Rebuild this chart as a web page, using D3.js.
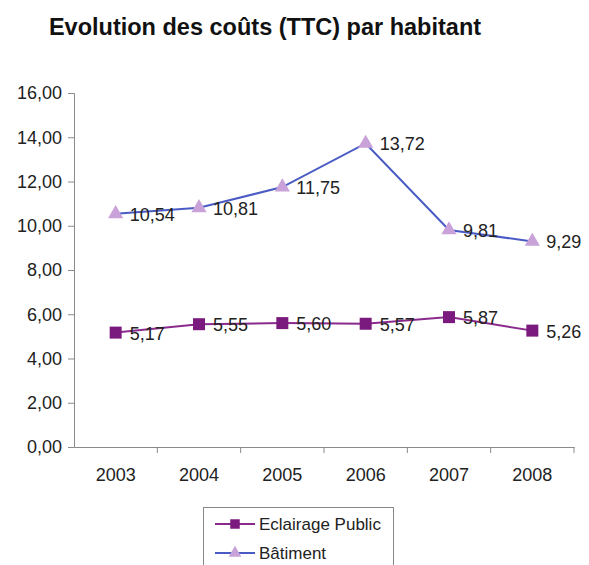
<!DOCTYPE html>
<html><head><meta charset="utf-8">
<script src="https://cdn.jsdelivr.net/npm/d3@7"></script>
<style>body{margin:0;background:#fff;}svg{display:block;font-family:"Liberation Sans",Arial,sans-serif;}</style>
</head><body><svg id="c" width="589" height="565"></svg>
<script>
const years = ["2003","2004","2005","2006","2007","2008"];
const eclairage = [5.17, 5.55, 5.60, 5.57, 5.87, 5.26];
const batiment = [10.54, 10.81, 11.75, 13.72, 9.81, 9.29];
const yTicks = [0,2,4,6,8,10,12,14,16];
const seriesNames = ["Eclairage Public", "Bâtiment"];

const svg = d3.select("#c");
const fmt = v => v.toFixed(2).replace(".", ",");
const FF = "Liberation Sans, Arial, sans-serif";

const x = d3.scaleBand().domain(years).range([74, 574]);
const y = d3.scaleLinear().domain([0,16]).range([447, 93]);

svg.append("text").attr("x", 265).attr("y", 35).attr("text-anchor","middle")
  .attr("font-size", 23.5).attr("font-weight","bold").attr("fill","#111")
  .text("Evolution des coûts (TTC) par habitant");

// Y axis
const ya = svg.append("g").attr("transform","translate(74,0)")
  .call(d3.axisLeft(y).tickValues(yTicks).tickSize(6).tickPadding(6).tickFormat(fmt));
ya.attr("font-size",null).attr("font-family",null);
ya.select(".domain").attr("stroke","#8a8a8a");
ya.selectAll(".tick line").attr("stroke","#8a8a8a");
ya.selectAll("text").style("font-size","18px").attr("fill","#222").style("font-family",FF);

// X axis
const xa = svg.append("g").attr("transform","translate(0,447)")
  .call(d3.axisBottom(x).tickSize(0).tickPadding(21));
xa.attr("font-size",null).attr("font-family",null);
xa.select(".domain").attr("stroke","#8a8a8a");
xa.selectAll("text").style("font-size","18px").attr("fill","#222").style("font-family",FF);
const bounds = years.map(d => x(d)).concat([x.range()[1]]).slice(1);
xa.selectAll(".bt").data(bounds).enter().append("line")
  .attr("x1", d=>d).attr("x2", d=>d).attr("y1",0).attr("y2",6).attr("stroke","#8a8a8a");

const cx = d => x(d) + x.bandwidth()/2;

function drawSeries(vals, lineColor, markerColor, shape) {
  const line = d3.line().x((d,i)=>cx(years[i])).y(d=>y(d));
  svg.append("path").datum(vals).attr("d", line).attr("fill","none")
    .attr("stroke", lineColor).attr("stroke-width", 2);
  svg.selectAll(null).data(vals).enter().append("path")
    .attr("transform",(d,i)=>`translate(${cx(years[i])},${y(d)})`)
    .attr("d", d3.symbol().type(shape).size(shape===d3.symbolSquare?144:100))
    .attr("fill", markerColor);
  svg.selectAll(null).data(vals).enter().append("text")
    .attr("x",(d,i)=>cx(years[i])+14).attr("y",d=>y(d)+7)
    .style("font-size","18px").style("font-family",FF).attr("fill","#222").text(fmt);
}
drawSeries(eclairage, "#8a2a8c", "#7b1a7e", d3.symbolSquare);
drawSeries(batiment, "#4a5cc4", "#c8a2d8", d3.symbolTriangle);

// Legend
svg.append("rect").attr("x",203.5).attr("y",507.5).attr("width",190).attr("height",70)
  .attr("fill","#fff").attr("stroke","#888");
const leg = [
  {name: seriesNames[0], lc:"#8a2a8c", mc:"#7b1a7e", shape:d3.symbolSquare, yy:524, sz:90},
  {name: seriesNames[1], lc:"#4a5cc4", mc:"#c8a2d8", shape:d3.symbolTriangle, yy:553, sz:70}
];
leg.forEach(l=>{
  svg.append("line").attr("x1",215).attr("x2",255).attr("y1",l.yy).attr("y2",l.yy).attr("stroke",l.lc).attr("stroke-width",2);
  svg.append("path").attr("transform",`translate(235,${l.yy})`).attr("d",d3.symbol().type(l.shape).size(l.sz)).attr("fill",l.mc);
  svg.append("text").attr("x",259).attr("y",l.yy+6).style("font-size","17px").style("font-family",FF).attr("fill","#222").text(l.name);
});
</script></body></html>
